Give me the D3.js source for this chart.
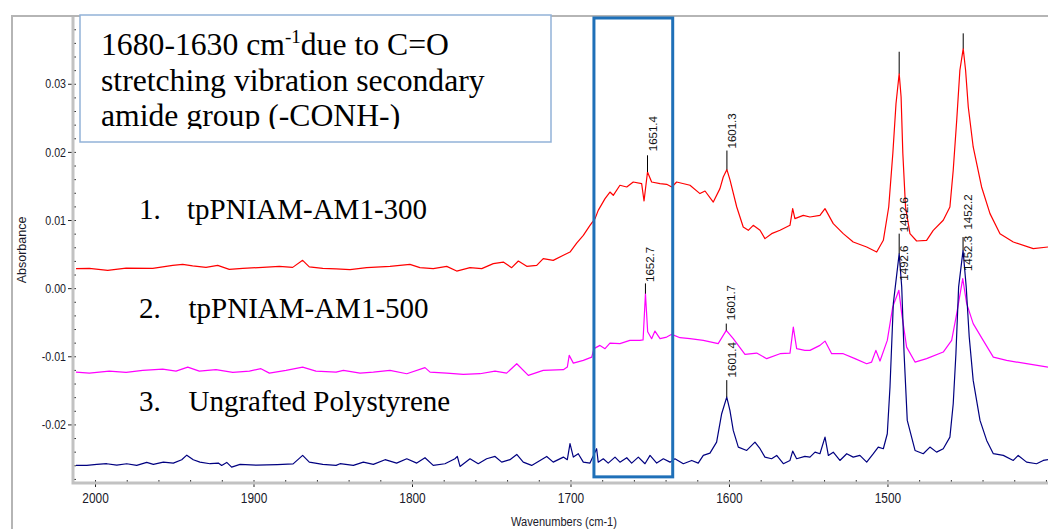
<!DOCTYPE html>
<html>
<head>
<meta charset="utf-8">
<script src="https://cdn.jsdelivr.net/npm/d3@7"></script>
<style>
  body { margin: 0; background: #fff; }
  svg { display: block; }
</style>
</head>
<body>
<svg id="chart" width="1048" height="529"></svg>
<script>
// ---- Spectra: [wavenumber (cm-1), absorbance] ----
const spec300 = [
  [2012.0,0.00286],[2003.6,0.00291],[1992.0,0.00261],[1980.4,0.00295],[1963.6,0.00291],[1951.0,0.00335],
  [1944.7,0.00349],[1938.4,0.00327],[1930.0,0.00305],[1922.6,0.00335],[1915.3,0.00276],[1906.8,0.00291],
  [1894.2,0.00305],[1883.7,0.00320],[1875.3,0.00305],[1869.0,0.00408],[1864.8,0.00313],[1856.3,0.00291],
  [1847.9,0.00283],[1839.1,0.00272],[1828.6,0.00301],[1813.9,0.00320],[1801.3,0.00349],[1795.0,0.00301],
  [1786.6,0.00286],[1778.1,0.00320],[1771.8,0.00251],[1763.4,0.00301],[1756.0,0.00286],[1748.7,0.00360],
  [1742.4,0.00383],[1737.1,0.00301],[1732.9,0.00398],[1727.6,0.00320],[1721.3,0.00335],[1717.2,0.00433],
  [1710.9,0.00408],[1704.5,0.00482],[1700.3,0.00530],[1696.1,0.00662],[1691.9,0.00775],[1687.7,0.00922],
  [1684.5,0.01021],[1682.5,0.01142],[1678.2,0.01314],[1675.1,0.01411],[1673.0,0.01363],[1668.8,0.01510],
  [1664.5,0.01485],[1660.4,0.01558],[1655.1,0.01535],[1653.6,0.01279],[1651.4,0.01705],[1648.8,0.01558],
  [1643.5,0.01535],[1639.3,0.01524],[1636.1,0.01485],[1633.0,0.01558],[1624.6,0.01510],[1618.3,0.01388],
  [1615.1,0.01426],[1609.9,0.01264],[1605.7,0.01461],[1603.6,0.01631],[1601.3,0.01740],[1599.4,0.01593],
  [1595.1,0.01191],[1591.0,0.00897],[1587.8,0.00849],[1584.7,0.00922],[1580.4,0.00849],[1577.3,0.00727],
  [1573.1,0.00800],[1567.8,0.00849],[1561.5,0.00922],[1559.8,0.01167],[1558.4,0.01021],[1553.1,0.01069],
  [1548.9,0.01044],[1542.6,0.01069],[1539.4,0.01167],[1534.2,0.00947],[1527.9,0.00800],[1521.6,0.00677],
  [1513.1,0.00604],[1506.8,0.00530],[1502.6,0.00702],[1499.2,0.01191],[1496.6,0.01980],[1494.6,0.02710],
  [1492.6,0.03150],[1491.4,0.02810],[1490.3,0.01980],[1488.6,0.01190],[1485.8,0.00800],[1481.6,0.00692],
  [1475.3,0.00702],[1471.1,0.00849],[1464.8,0.00996],[1460.6,0.01191],[1458.5,0.01730],[1456.3,0.02464],
  [1454.3,0.03198],[1452.2,0.03517],[1450.7,0.03198],[1449.0,0.02659],[1445.9,0.02072],[1440.6,0.01485],
  [1435.3,0.01094],[1429.0,0.00800],[1420.6,0.00677],[1408.0,0.00580],[1398.7,0.00604]
];

const spec500 = [
  [2012.0,-0.01232],[2003.6,-0.01247],[1991.0,-0.01217],[1980.4,-0.01236],[1969.9,-0.01207],[1957.3,-0.01188],
  [1948.9,-0.01217],[1941.5,-0.01159],[1934.2,-0.01217],[1923.7,-0.01197],[1913.1,-0.01236],[1902.6,-0.01217],
  [1895.3,-0.01182],[1890.0,-0.01247],[1879.5,-0.01207],[1869.0,-0.01159],[1860.6,-0.01217],[1847.9,-0.01232],
  [1843.3,-0.01207],[1832.8,-0.01247],[1824.4,-0.01232],[1813.9,-0.01207],[1803.3,-0.01256],[1791.8,-0.01167],
  [1788.6,-0.01232],[1778.1,-0.01247],[1767.6,-0.01266],[1757.1,-0.01256],[1747.6,-0.01217],[1740.3,-0.01247],
  [1733.9,-0.01109],[1726.6,-0.01280],[1717.2,-0.01207],[1704.5,-0.01197],[1702.0,-0.01159],[1700.8,-0.00987],
  [1698.2,-0.01100],[1691.9,-0.01060],[1686.6,-0.01012],[1685.2,-0.00888],[1681.4,-0.00840],[1678.2,-0.00888],
  [1675.1,-0.00806],[1668.8,-0.00815],[1662.5,-0.00767],[1656.2,-0.00767],[1654.2,-0.00760],[1652.7,-0.00081],
  [1651.3,-0.00640],[1648.8,-0.00742],[1646.7,-0.00630],[1643.5,-0.00742],[1639.3,-0.00718],[1636.1,-0.00678],
  [1630.9,-0.00727],[1624.6,-0.00742],[1616.2,-0.00767],[1606.8,-0.00815],[1601.7,-0.00620],[1597.3,-0.00742],
  [1589.9,-0.00972],[1582.5,-0.00953],[1576.2,-0.01035],[1567.8,-0.00962],[1561.5,-0.00953],[1559.4,-0.00571],
  [1557.3,-0.00888],[1552.1,-0.00913],[1548.9,-0.00913],[1542.6,-0.00840],[1539.4,-0.00777],[1535.2,-0.00962],
  [1527.9,-0.00962],[1520.5,-0.01035],[1513.1,-0.01109],[1510.0,-0.01085],[1507.3,-0.00913],[1504.7,-0.01070],
  [1500.1,-0.00767],[1496.7,-0.00278],[1492.8,-0.00032],[1491.0,-0.00374],[1487.9,-0.00865],[1482.6,-0.01085],
  [1475.3,-0.01035],[1464.8,-0.00938],[1459.5,-0.00767],[1456.3,-0.00374],[1452.5,0.00139],[1450.0,-0.00228],
  [1445.9,-0.00521],[1439.6,-0.00767],[1433.2,-0.01012],[1424.8,-0.01060],[1412.2,-0.01109],[1398.7,-0.01159]
];

const specPS = [
  [2012.0,-0.02602],[2005.2,-0.02602],[1998.9,-0.02587],[1992.6,-0.02577],[1986.3,-0.02598],[1980.0,-0.02577],
  [1973.7,-0.02602],[1967.4,-0.02558],[1963.2,-0.02587],[1956.9,-0.02554],[1950.6,-0.02568],[1945.3,-0.02518],
  [1942.1,-0.02451],[1938.0,-0.02518],[1933.8,-0.02554],[1927.4,-0.02577],[1922.2,-0.02568],[1920.1,-0.02602],
  [1916.9,-0.02558],[1913.8,-0.02627],[1908.5,-0.02587],[1898.0,-0.02598],[1885.0,-0.02590],[1875.0,-0.02580],
  [1869.0,-0.02455],[1864.8,-0.02554],[1856.3,-0.02587],[1847.9,-0.02602],[1845.4,-0.02577],[1837.0,-0.02602],
  [1830.7,-0.02554],[1824.4,-0.02587],[1817.0,-0.02518],[1809.7,-0.02568],[1803.3,-0.02504],[1797.0,-0.02568],
  [1791.8,-0.02489],[1786.6,-0.02602],[1779.2,-0.02577],[1772.9,-0.02504],[1771.4,-0.02470],[1769.7,-0.02617],
  [1763.4,-0.02504],[1758.2,-0.02577],[1752.9,-0.02504],[1747.6,-0.02470],[1743.4,-0.02554],[1738.2,-0.02518],
  [1733.9,-0.02441],[1729.8,-0.02554],[1724.5,-0.02602],[1719.2,-0.02529],[1715.0,-0.02470],[1710.9,-0.02554],
  [1704.5,-0.02480],[1702.0,-0.02518],[1700.3,-0.02283],[1698.2,-0.02480],[1695.1,-0.02430],[1691.9,-0.02554],
  [1687.7,-0.02568],[1683.5,-0.02357],[1682.5,-0.02554],[1679.3,-0.02504],[1676.2,-0.02568],[1671.9,-0.02480],
  [1668.8,-0.02554],[1664.5,-0.02489],[1661.4,-0.02568],[1657.2,-0.02480],[1653.0,-0.02577],[1649.8,-0.02455],
  [1645.6,-0.02568],[1641.4,-0.02504],[1637.2,-0.02554],[1634.1,-0.02504],[1628.8,-0.02577],[1623.5,-0.02529],
  [1619.4,-0.02568],[1616.2,-0.02455],[1612.0,-0.02421],[1607.8,-0.02260],[1604.6,-0.01843],[1601.4,-0.01599],
  [1599.4,-0.01794],[1597.3,-0.02088],[1594.1,-0.02333],[1588.8,-0.02382],[1583.6,-0.02260],[1580.4,-0.02357],
  [1577.3,-0.02480],[1573.1,-0.02504],[1569.9,-0.02455],[1565.7,-0.02577],[1561.5,-0.02529],[1559.8,-0.02392],
  [1557.3,-0.02504],[1552.1,-0.02470],[1548.9,-0.02480],[1545.7,-0.02407],[1542.6,-0.02430],[1539.4,-0.02186],
  [1537.3,-0.02455],[1534.2,-0.02407],[1530.0,-0.02529],[1525.7,-0.02430],[1521.6,-0.02480],[1517.4,-0.02455],
  [1513.1,-0.02554],[1508.9,-0.02430],[1505.8,-0.02333],[1502.6,-0.02357],[1500.1,-0.02137],[1498.4,-0.01452],
  [1496.3,-0.00228],[1492.6,0.00507],[1491.0,0.00016],[1489.5,-0.00962],[1487.5,-0.01941],[1482.6,-0.02382],
  [1477.4,-0.02430],[1473.2,-0.02333],[1469.0,-0.02407],[1464.8,-0.02357],[1460.6,-0.02186],[1458.5,-0.01696],
  [1456.8,-0.00962],[1455.1,0.00016],[1452.3,0.00555],[1450.3,0.00016],[1448.4,-0.00718],[1445.9,-0.01354],
  [1441.6,-0.01941],[1437.4,-0.02235],[1433.2,-0.02430],[1426.9,-0.02455],[1420.6,-0.02529],[1417.5,-0.02455],
  [1412.2,-0.02554],[1405.9,-0.02577],[1401.7,-0.02529],[1398.7,-0.02518]
];

const seriesColors = ["#ff0000", "#ff00ff", "#000080"];
const legendNumbers = ["1.", "2.", "3."];
const legendNames = ["tpPNIAM-AM1-300", "tpPNIAM-AM1-500", "Ungrafted Polystyrene"];

// Axis ticks
const xTicksMajor = [2000, 1900, 1800, 1700, 1600, 1500];
const xTicksMinor = d3.range(2000, 1399, -20);
const yTicksMajor = [-0.02, -0.01, 0.00, 0.01, 0.02, 0.03];
const yTicksMinor = d3.range(-28, 39, 2).map(v => v / 1000);

// Peak annotations: wavenumber, series index, leader top, text start (absorbance)
const peakLabels = [
  [1651.4, 0, 0.0195, 0.0201],
  [1601.3, 0, 0.0202, 0.0205],
  [1652.7, 1, 0.0007, 0.0009],
  [1601.7, 1, -0.0052, -0.0047],
  [1601.4, 2, -0.0135, -0.0131],
  [1492.6, 0, 0.0347, 0.0082],
  [1452.2, 0, 0.0374, 0.0086],
  [1492.6, 2, 0.0080, 0.0011],
  [1452.3, 2, 0.0075, 0.0025]
];

// Highlighted amide band (cm-1)
const amideBand = [1685.2, 1635.5];
const noteLines = ["stretching vibration secondary", "amide group (-CONH-)"];

// ---- Layout ----
const svg = d3.select("#chart");
const plot = { left: 73, right: 1048, top: 17, bottom: 483 };

const x = d3.scaleLinear().domain([2013.9, 1398.7]).range([plot.left, plot.right]);
const y = d3.scaleLinear().domain([-0.0286, 0.0398]).range([plot.bottom, plot.top]);

const sans = "'Liberation Sans',Arial,sans-serif";
const serif = "'Liberation Serif','Times New Roman',serif";
const squeeze = 0.82; // horizontal compression for the condensed axis lettering

// Outer frame
svg.append("path")
  .attr("d", `M12,529 L12,16 L1048,16`)
  .attr("fill", "none").attr("stroke", "#b5b5b5").attr("stroke-width", 2);

// Spectra
const line = d3.line().x(d => x(d[0])).y(d => y(d[1]));
const allSeries = [spec300, spec500, specPS];
svg.append("g").selectAll("path")
  .data(allSeries)
  .join("path")
  .attr("d", line)
  .attr("fill", "none")
  .attr("stroke", (d, i) => seriesColors[i])
  .attr("stroke-width", 1.2)
  .attr("stroke-linejoin", "round");

// Peak labels
const lbl = svg.append("g");
peakLabels.forEach(([wn, si, top, textAt]) => {
  const pt = allSeries[si].find(d => d[0] === wn);
  const px = x(wn);
  lbl.append("line")
    .attr("x1", px).attr("x2", px)
    .attr("y1", y(pt[1])).attr("y2", y(top))
    .attr("stroke", "#000").attr("stroke-width", 1);
  lbl.append("text")
    .attr("transform", `translate(${px + 9},${y(textAt)}) rotate(-90)`)
    .attr("font-family", sans)
    .attr("font-size", 11.5)
    .attr("fill", "#111")
    .text(wn.toFixed(1));
});

// Axes
const yFmt = v => (Math.abs(v) < 1e-9 ? 0 : v).toFixed(2);

const gy = svg.append("g").attr("transform", `translate(${plot.left},0)`);
gy.call(d3.axisLeft(y).tickValues(yTicksMajor).tickSizeInner(5).tickSizeOuter(0).tickPadding(2).tickFormat(yFmt));
gy.select(".domain").remove();
gy.selectAll("text")
  .attr("font-family", sans).attr("font-size", 13).attr("fill", "#1a1a2a")
  .attr("x", -7 / squeeze)
  .attr("transform", `scale(${squeeze},1)`);
gy.selectAll(".tick line").attr("stroke", "#222");
const gyMinor = svg.append("g").attr("transform", `translate(${plot.left},0)`);
gyMinor.call(d3.axisLeft(y).tickValues(yTicksMinor).tickSizeInner(-3).tickSizeOuter(0).tickFormat(""));
gyMinor.select(".domain").remove();
gyMinor.selectAll(".tick line").attr("stroke", "#333");

const gx = svg.append("g").attr("transform", `translate(0,${plot.bottom})`);
gx.call(d3.axisBottom(x).tickValues(xTicksMajor).tickSizeInner(4).tickSizeOuter(0).tickPadding(6).tickFormat(d3.format("d")));
gx.select(".domain").remove();
gx.selectAll("text")
  .attr("font-family", sans).attr("font-size", 14.5).attr("fill", "#1a1a2a")
  .attr("transform", `scale(${squeeze},1)`);
gx.selectAll(".tick line").attr("stroke", "#222");
const gxMinor = svg.append("g").attr("transform", `translate(0,${plot.bottom})`);
gxMinor.call(d3.axisBottom(x).tickValues(xTicksMinor).tickSizeInner(-3).tickSizeOuter(0).tickFormat(""));
gxMinor.select(".domain").remove();
gxMinor.selectAll(".tick line").attr("stroke", "#333");

// Axis lines (grey frame of the plot area)
svg.append("path")
  .attr("d", `M${plot.left},${plot.top} L${plot.left},${plot.bottom} L${plot.right},${plot.bottom}`)
  .attr("fill", "none").attr("stroke", "#c2c2c2").attr("stroke-width", 3);

// Axis titles
svg.append("text")
  .attr("transform", `translate(26,250) rotate(-90)`)
  .attr("text-anchor", "middle")
  .attr("font-family", sans)
  .attr("font-size", 12.5)
  .attr("fill", "#1a1a2a")
  .text("Absorbance");
svg.append("text")
  .attr("transform", `translate(564,526) scale(${squeeze},1)`)
  .attr("text-anchor", "middle")
  .attr("font-family", sans)
  .attr("font-size", 13.5)
  .attr("fill", "#1a1a2a")
  .text("Wavenumbers (cm-1)");

// Amide band highlight
svg.append("rect")
  .attr("x", x(amideBand[0])).attr("y", y(0.0398) + 1)
  .attr("width", x(amideBand[1]) - x(amideBand[0]))
  .attr("height", y(-0.0277) - y(0.0398) - 1)
  .attr("fill", "none").attr("stroke", "#1f70b8").attr("stroke-width", 3);

// Note box
const note = svg.append("g");
note.append("rect")
  .attr("x", 80).attr("y", 15).attr("width", 471).attr("height", 127)
  .attr("fill", "#fff").attr("stroke", "#92b2d8").attr("stroke-width", 1.5);
svg.append("clipPath").attr("id", "noteClip")
  .append("rect").attr("x", 80).attr("y", 15).attr("width", 471).attr("height", 114);
const noteText = note.append("g").attr("clip-path", "url(#noteClip)")
  .attr("font-family", serif).attr("font-size", 31.7).attr("fill", "#000");
const t1 = noteText.append("text").attr("x", 101).attr("y", 55);
t1.append("tspan").text("1680-1630 cm");
t1.append("tspan").attr("font-size", 19).attr("dy", -12).text("-1");
t1.append("tspan").attr("dy", 12).text("due to C=O");
noteLines.forEach((s, i) => {
  noteText.append("text").attr("x", 101).attr("y", 90.5 + i * 35.5).text(s);
});

// Series names
const legendY = [219, 318, 411];
const leg = svg.append("g").attr("font-family", serif).attr("font-size", 29).attr("fill", "#000");
legendNames.forEach((name, i) => {
  leg.append("text").attr("x", 139).attr("y", legendY[i]).text(legendNumbers[i]);
  leg.append("text").attr("x", 187 + (i > 0 ? 1.5 : 0)).attr("y", legendY[i]).text(name);
});
</script>
</body>
</html>
